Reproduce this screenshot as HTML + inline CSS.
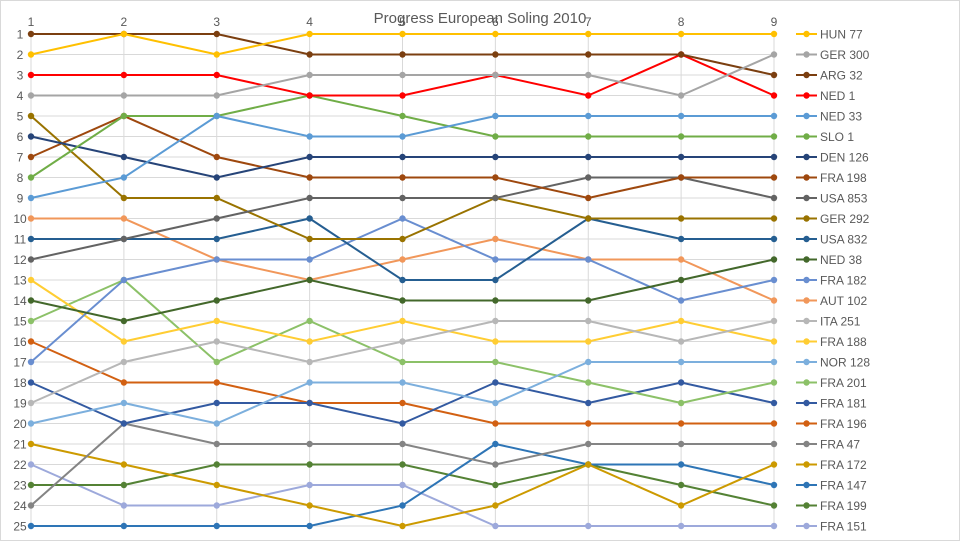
<!DOCTYPE html>
<html><head><meta charset="utf-8"><style>
html,body{margin:0;padding:0;background:#fff;}
svg{display:block;font-family:"Liberation Sans",sans-serif;}
</style></head><body>
<svg id="c" width="960" height="541" xmlns="http://www.w3.org/2000/svg"></svg>
<script>
const S=[
["HUN 77","#FFC000",[2,1,2,1,1,1,1,1,1]],
["GER 300","#A5A5A5",[4,4,4,3,3,3,3,4,2]],
["ARG 32","#7B3F10",[1,1,1,2,2,2,2,2,3]],
["NED 1","#FF0000",[3,3,3,4,4,3,4,2,4]],
["NED 33","#5B9BD5",[9,8,5,6,6,5,5,5,5]],
["SLO 1","#70AD47",[8,5,5,4,5,6,6,6,6]],
["DEN 126","#264478",[6,7,8,7,7,7,7,7,7]],
["FRA 198","#9E480E",[7,5,7,8,8,8,9,8,8]],
["USA 853","#636363",[12,11,10,9,9,9,8,8,9]],
["GER 292","#997300",[5,9,9,11,11,9,10,10,10]],
["USA 832","#255E91",[11,11,11,10,13,13,10,11,11]],
["NED 38","#43682B",[14,15,14,13,14,14,14,13,12]],
["FRA 182","#698ED0",[17,13,12,12,10,12,12,14,13]],
["AUT 102","#F1975A",[10,10,12,13,12,11,12,12,14]],
["ITA 251","#B7B7B7",[19,17,16,17,16,15,15,16,15]],
["FRA 188","#FFCD33",[13,16,15,16,15,16,16,15,16]],
["NOR 128","#7CAFDD",[20,19,20,18,18,19,17,17,17]],
["FRA 201","#8CC168",[15,13,17,15,17,17,18,19,18]],
["FRA 181","#335AA1",[18,20,19,19,20,18,19,18,19]],
["FRA 196","#D26012",[16,18,18,19,19,20,20,20,20]],
["FRA 47","#848484",[24,20,21,21,21,22,21,21,21]],
["FRA 172","#CC9A00",[21,22,23,24,25,24,22,24,22]],
["FRA 147","#2E75B6",[25,25,25,25,24,21,22,22,23]],
["FRA 199","#548235",[23,23,22,22,22,23,22,23,24]],
["FRA 151","#9DA9DB",[22,24,24,23,23,25,25,25,25]]];
const X=c=>31+(c-1)*92.875, Y=r=>34+(r-1)*20.5;
let h='<rect x="0.5" y="0.5" width="959" height="540" fill="#fff" stroke="#d9d9d9"/>';
for(let r=1;r<=25;r++){h+=`<line x1="31" x2="774" y1="${Y(r)}" y2="${Y(r)}" stroke="#d9d9d9"/>`;
h+=`<text x="20" y="${Y(r)+4.5}" font-size="12" fill="#595959" text-anchor="middle">${r}</text>`;}
for(let c=1;c<=9;c++){h+=`<line x1="${X(c)}" x2="${X(c)}" y1="34" y2="526" stroke="#d9d9d9"/>`;
h+=`<text x="${X(c)}" y="26" font-size="12" fill="#595959" text-anchor="middle">${c}</text>`;}
S.slice().reverse().forEach(s=>{const p=s[2].map((r,i)=>X(i+1)+','+Y(r)).join(' ');
h+=`<polyline points="${p}" fill="none" stroke="${s[1]}" stroke-width="2"/>`;
s[2].forEach((r,i)=>h+=`<circle cx="${X(i+1)}" cy="${Y(r)}" r="3.2" fill="${s[1]}"/>`);});
S.forEach((s,i)=>{const y=Y(i+1);h+=`<line x1="796" x2="817" y1="${y}" y2="${y}" stroke="${s[1]}" stroke-width="2"/><circle cx="806.5" cy="${y}" r="3.2" fill="${s[1]}"/>`;
h+=`<text x="820" y="${y+4.5}" font-size="12" fill="#595959">${s[0]}</text>`;});
h+='<text x="480" y="23" font-size="15" fill="#595959" text-anchor="middle">Progress European Soling 2010</text>';
document.getElementById('c').innerHTML=h;
</script>
</body></html>
